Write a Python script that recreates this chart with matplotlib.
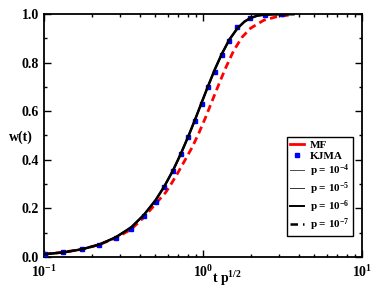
import matplotlib
matplotlib.use("Agg")
import matplotlib.pyplot as plt
from matplotlib.lines import Line2D
from matplotlib.ticker import LogLocator, MultipleLocator, NullFormatter

plt.rcParams['font.family'] = ['Liberation Serif', 'DejaVu Serif']
plt.rcParams['font.weight'] = 'bold'
plt.rcParams['mathtext.fontset'] = 'custom'
plt.rcParams['mathtext.rm'] = 'Liberation Serif:bold'
plt.rcParams['mathtext.bf'] = 'Liberation Serif:bold'
plt.rcParams['mathtext.it'] = 'Liberation Serif:bold'
plt.rcParams['mathtext.default'] = 'bf'

# data
mf_x = [0.10, 0.132, 0.173, 0.222, 0.282, 0.353, 0.424, 0.503, 0.582, 0.625, 0.689,
        0.758, 0.856, 0.942, 1.037, 1.114, 1.197, 1.256, 1.383, 1.56, 1.76, 1.99,
        2.41, 2.92, 3.54]
mf_w = [0.0105, 0.019, 0.031, 0.050, 0.077, 0.113, 0.162, 0.218, 0.265, 0.296, 0.342,
        0.390, 0.452, 0.510, 0.574, 0.625, 0.676, 0.710, 0.776, 0.850, 0.905, 0.942,
        0.975, 0.990, 0.997]

kjma_x = [0.1015, 0.132, 0.173, 0.222, 0.282, 0.353, 0.424, 0.503, 0.571, 0.650, 0.727,
          0.808, 0.891, 0.981, 1.080, 1.190, 1.311, 1.464, 1.643, 1.984, 2.437, 3.126]
kjma_w = [0.012, 0.0206, 0.0305, 0.0507, 0.0775, 0.1166, 0.168, 0.226, 0.288, 0.355,
          0.424, 0.493, 0.560, 0.629, 0.698, 0.762, 0.832, 0.891, 0.946, 0.984, 0.998, 1.0]

sim_x = [0.100, 0.132, 0.173, 0.222, 0.282, 0.353, 0.424, 0.503, 0.571, 0.650, 0.727,
         0.808, 0.891, 0.981, 1.080, 1.190, 1.311, 1.464, 1.643, 1.820, 1.984, 2.200,
         2.437, 2.800, 3.126, 3.700]
sim_w = [0.0105, 0.018, 0.031, 0.050, 0.080, 0.121, 0.172, 0.233, 0.290, 0.358, 0.426,
         0.496, 0.565, 0.636, 0.706, 0.774, 0.835, 0.895, 0.941, 0.969, 0.984, 0.994,
         0.998, 0.9995, 1.0, 1.0]

p_labels = ['p = 10$^{-4}$', 'p = 10$^{-5}$', 'p = 10$^{-6}$', 'p = 10$^{-7}$']
p_widths = [0.7, 0.7, 1.4, 1.8]
p_colors = ['0.3', '0.2', 'black', 'black']

fig = plt.figure(figsize=(3.74, 2.89), dpi=100)
ax = fig.add_axes([0.1176, 0.1114, 0.8503, 0.8395])

ax.plot(mf_x, mf_w, color='red', lw=2.0, dashes=(2.6, 1.6), zorder=2)
ax.plot(kjma_x, kjma_w, 's', color='blue', ms=3.5, mec='blue', zorder=3)
for lw, c in zip(p_widths, p_colors):
    ax.plot(sim_x, sim_w, color=c, lw=lw, zorder=4)

ax.set_xscale('log')
ax.set_xlim(0.1, 10)
ax.set_ylim(0, 1)
ax.xaxis.set_major_locator(LogLocator(base=10, numticks=5))
ax.xaxis.set_minor_locator(LogLocator(base=10, subs=range(2, 10), numticks=20))
ax.xaxis.set_minor_formatter(NullFormatter())
ax.yaxis.set_major_locator(MultipleLocator(0.2))
ax.yaxis.set_minor_locator(MultipleLocator(0.1))
ax.yaxis.set_major_formatter(plt.FuncFormatter(lambda v, _: f'{v:.1f}'))

ax.tick_params(which='both', direction='in', top=True, right=True, labelsize=10, width=1.0)
ax.tick_params(which='major', length=5)
ax.tick_params(which='minor', length=2.5)
ax.tick_params(axis='x', pad=5)
for s in ax.spines.values():
    s.set_linewidth(1.3)
for lab in ax.get_yticklabels():
    lab.set_fontweight('bold')

fig.text(0.025, 0.525, 'w(t)', fontsize=10, fontweight='bold', ha='left', va='center')
fig.text(0.607, 0.036, 't p$^{1/2}$', fontsize=10, fontweight='bold', ha='center', va='center')

handles = [Line2D([], [], color='red', lw=2.0),
           Line2D([], [], ls='none', marker='s', color='blue', ms=3.2)]
for lw, c in zip(p_widths[:3], p_colors[:3]):
    handles.append(Line2D([], [], color=c, lw=lw))
handles.append(Line2D([], [], color='black', lw=p_widths[3], dashes=(3, 2)))
leg = ax.legend(handles, ['MF', 'KJMA'] + p_labels, loc='upper left',
                bbox_to_anchor=(0.764, 0.494), fancybox=False, framealpha=1,
                edgecolor='black', fontsize=8, handlelength=1.2, handletextpad=0.6,
                labelspacing=0.12, borderpad=0.3, borderaxespad=0)
leg.get_frame().set_linewidth(1.0)
for t in leg.get_texts():
    t.set_fontweight('bold')

fig.savefig('out.png', dpi=100)
